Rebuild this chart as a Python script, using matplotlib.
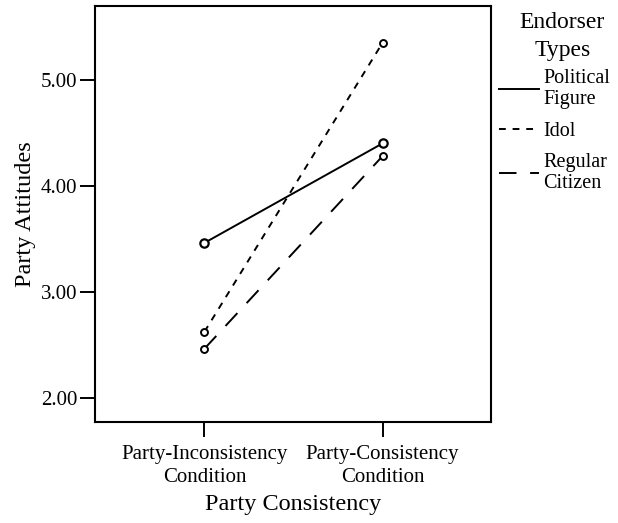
import numpy as np
import matplotlib
matplotlib.use("Agg")
from matplotlib import pyplot as plt

plt.rcParams['font.family'] = ['Liberation Serif', 'DejaVu Serif']

conditions = ['Party-Inconsistency\nCondition', 'Party-Consistency\nCondition']
political = [3.46, 4.40]
idol = [2.62, 5.35]
regular = [2.46, 4.28]
y_ticks = [2.0, 3.0, 4.0, 5.0]

fig = plt.figure(figsize=(6.18, 5.23), dpi=100)
ax = fig.add_axes([0.154, 0.194, 0.640, 0.795])

x = np.arange(len(conditions))
ax.plot(x, political, color='black', linewidth=1.4, linestyle='-',
        marker='o', markersize=6, markerfacecolor='white', markeredgewidth=1.6,
        label='Political\nFigure')
ax.plot(x, idol, color='black', linewidth=1.4, linestyle=(0, (3.5, 3.5)),
        marker='o', markersize=5, markerfacecolor='white', markeredgewidth=1.4,
        label='Idol')
ax.plot(x, regular, color='black', linewidth=1.4, linestyle=(0, (9, 7)),
        marker='o', markersize=5, markerfacecolor='white', markeredgewidth=1.4,
        label='Regular\nCitizen')

ax.set_xlim(-0.613, 1.607)
ax.set_ylim(1.773, 5.70)
ax.set_xticks(x)
ax.set_xticklabels(conditions, fontsize=15, linespacing=1.3)
ax.set_yticks(y_ticks)
ax.set_yticklabels(['%.2f' % v for v in y_ticks], fontsize=15)
ax.tick_params(axis='both', direction='out', length=11, width=1.4, pad=2)
ax.tick_params(axis='x', pad=6)

for s in ax.spines.values():
    s.set_linewidth(1.5)

ax.set_xlabel('Party Consistency', fontsize=17.5, labelpad=5)
ax.set_ylabel('Party Attitudes', fontsize=17.5, labelpad=3)

leg = ax.legend(loc='upper left', bbox_to_anchor=(1.005, 1.0), frameon=False,
                title='Endorser\nTypes', fontsize=14.5, title_fontsize=17,
                handlelength=2.0, handletextpad=0.2, borderaxespad=0.0,
                borderpad=0.3, labelspacing=0.6)
for line in leg.get_lines():
    line.set_marker('')
leg._legend_box.align = 'center'
leg._legend_box.sep = 6
leg.get_title().set_linespacing(1.45)
leg.get_title().set_multialignment('center')
leg.get_title().set_position((8, 0))
for t in leg.get_texts():
    t.set_linespacing(1.15)

fig.savefig('out.png', dpi=100)
